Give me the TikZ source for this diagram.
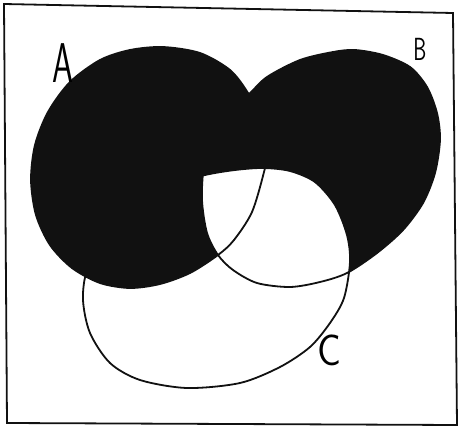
\documentclass[tikz,border=0pt]{standalone}
\usepackage{amssymb}
\usepackage{xcolor}
\definecolor{setblack}{RGB}{17,17,17}
\tikzset{outline/.style={setblack, line width=1.8pt},
  setname/.style={inner sep=0pt, transform shape, font=\sffamily}}
\def\setA{plot[smooth cycle] coordinates {(163,47) (200,53) (230,70) (248,93) (262,122) (268,150) (264,172) (252,212) (234,240) (218,255) (190,273) (160,284) (130,288) (100,283) (72,268) (50,245) (36,215) (31,180) (35,145) (48,112) (70,82) (100,60) (130,50)}}
\def\setB{plot[smooth cycle] coordinates {(248,95) (267,77) (300,60) (333,52) (355,50) (383,55) (410,67) (427,87) (437,113) (440,140) (435,173) (423,203) (403,230) (377,253) (347,273) (320,282) (290,287) (257,283) (233,270) (218,255) (207,233) (202,200) (204,165) (213,133) (228,110)}}
\def\setC{plot[smooth cycle] coordinates {(205,175) (235,170) (263,168) (290,171) (315,182) (335,205) (347,235) (350,262) (344,298) (330,323) (310,347) (280,367) (240,383) (187,388) (140,380) (110,363) (90,333) (83,300) (87,270) (105,235) (135,205) (170,185)}}

\begin{document}
\begin{tikzpicture}[x=1pt, y=-1pt]
\useasboundingbox (0,0) rectangle (458,428);
\draw[outline] (4,4) -- (453,13) -- (457,425) -- (7,423) -- cycle;
\fill[setblack] \setA;
\fill[setblack] \setB;
\begin{scope}
\clip \setB;
\fill[white] \setC;
\end{scope}
\draw[outline] \setA;
\draw[outline] \setB;
\draw[outline] \setC;
\node[setname, xscale=0.6, font=\sffamily\fontsize{56}{56}\selectfont] (labA) at (63,63) {A};
\node[setname, xscale=0.65, font=\sffamily\fontsize{32}{32}\selectfont] (labB) at (420,49) {B};
\node[setname, xscale=0.9, font=\sffamily\fontsize{44}{44}\selectfont] (labC) at (329,350) {C};
\end{tikzpicture}
\end{document}
